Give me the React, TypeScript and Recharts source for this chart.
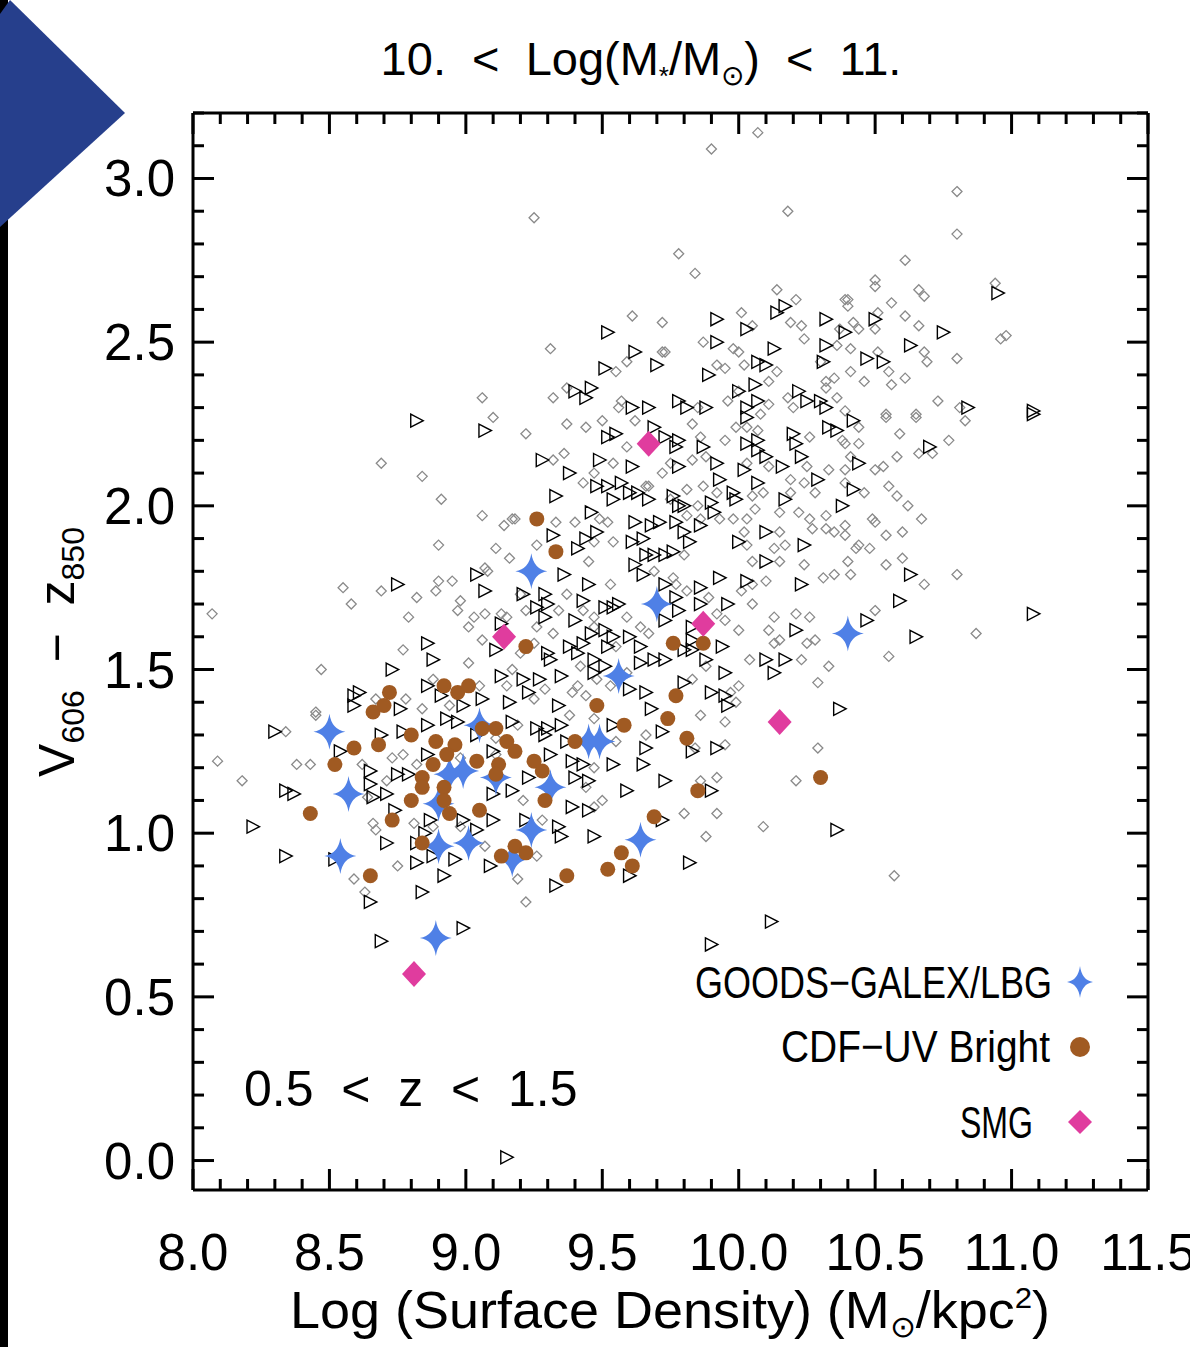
import React from 'react';
import { ScatterChart, Scatter, XAxis, YAxis } from 'recharts';

// axis ticks (minor every 0.1, labelled every 0.5)
const X_TICKS = [8.0, 8.1, 8.2, 8.3, 8.4, 8.5, 8.6, 8.7, 8.8, 8.9, 9.0, 9.1, 9.2, 9.3, 9.4, 9.5, 9.6, 9.7, 9.8, 9.9,
  10.0, 10.1, 10.2, 10.3, 10.4, 10.5, 10.6, 10.7, 10.8, 10.9, 11.0, 11.1, 11.2, 11.3, 11.4, 11.5];
const Y_TICKS = [0.0, 0.1, 0.2, 0.3, 0.4, 0.5, 0.6, 0.7, 0.8, 0.9, 1.0, 1.1, 1.2, 1.3, 1.4, 1.5, 1.6, 1.7, 1.8, 1.9,
  2.0, 2.1, 2.2, 2.3, 2.4, 2.5, 2.6, 2.7, 2.8, 2.9, 3.0, 3.1, 3.2];

// GOODS-GALEX/LBG (blue stars)
const LBG = [
  [9.24, 1.80], [9.70, 1.70], [10.40, 1.61], [9.56, 1.48], [8.50, 1.31], [9.05, 1.33], [9.45, 1.28], [9.49, 1.28],
  [8.57, 1.12], [8.94, 1.18], [8.99, 1.19], [9.11, 1.17], [9.31, 1.14], [9.24, 1.01], [8.90, 0.96], [9.01, 0.97],
  [9.17, 0.92], [9.64, 0.98], [8.54, 0.93], [8.89, 0.68], [8.90, 1.09],
];

// CDF-UV Bright (brown circles)
const UVB = [
  [8.66, 1.37], [8.70, 1.39], [8.72, 1.43], [8.92, 1.45], [8.97, 1.43], [9.01, 1.45], [8.80, 1.30], [8.89, 1.28],
  [8.96, 1.27], [9.06, 1.32], [9.11, 1.32], [9.15, 1.28], [9.18, 1.25], [8.59, 1.26], [8.68, 1.27], [8.52, 1.21],
  [8.88, 1.21], [8.93, 1.24], [9.04, 1.22], [9.12, 1.21], [9.11, 1.18], [8.84, 1.17], [8.84, 1.14], [8.80, 1.10],
  [8.92, 1.14], [8.92, 1.10], [8.94, 1.06], [9.05, 1.07], [8.43, 1.06], [8.73, 1.04], [8.84, 0.97], [9.13, 0.93],
  [9.18, 0.96], [8.65, 0.87], [9.26, 1.96], [9.33, 1.86], [9.22, 1.57], [9.76, 1.58], [9.87, 1.58], [9.77, 1.42],
  [9.48, 1.39], [9.74, 1.35], [9.58, 1.33], [9.40, 1.28], [9.81, 1.29], [9.25, 1.22], [9.28, 1.19], [9.85, 1.13],
  [9.29, 1.10], [9.69, 1.05], [9.57, 0.94], [9.61, 0.90], [9.52, 0.89], [9.37, 0.87], [9.22, 0.94], [10.30, 1.17],
];

// SMG (magenta diamonds)
const SMG = [[9.67, 2.19], [9.14, 1.60], [9.87, 1.64], [10.15, 1.34], [8.81, 0.57]];

// field galaxies (open triangles)
const TRI = [
  [9.52, 2.53], [9.62, 2.47], [9.51, 2.42], [9.70, 2.43], [9.40, 2.35], [9.46, 2.36], [9.44, 2.33], [9.61, 2.30],
  [9.67, 2.30], [9.78, 2.32], [9.81, 2.30], [9.88, 2.30], [9.92, 2.57], [9.92, 2.50], [9.89, 2.40], [10.03, 2.54],
  [10.14, 2.59], [10.17, 2.61], [10.13, 2.48], [10.07, 2.44], [10.10, 2.43], [10.00, 2.35], [10.06, 2.37], [10.07, 2.32],
  [10.03, 2.30], [10.22, 2.35], [10.25, 2.32], [10.31, 2.44], [10.32, 2.57], [10.32, 2.49], [10.30, 2.32], [10.32, 2.30],
  [10.95, 2.65], [10.50, 2.57], [10.39, 2.53], [10.75, 2.53], [10.63, 2.49], [10.47, 2.45], [10.53, 2.44], [10.84, 2.30],
  [11.08, 2.29], [8.82, 2.26], [9.07, 2.23], [8.75, 1.76], [9.04, 1.79], [9.07, 1.74], [8.86, 1.58], [8.88, 1.53],
  [8.73, 1.50], [9.13, 1.64], [9.11, 1.56], [9.13, 1.48], [8.86, 1.45], [8.91, 1.42], [9.06, 1.41], [8.59, 1.42],
  [8.61, 1.43], [8.59, 1.39], [8.76, 1.38], [9.16, 1.40], [8.99, 1.39], [10.42, 2.26], [10.36, 2.23], [10.70, 2.18],
  [10.44, 2.13], [10.42, 2.05], [10.38, 2.00], [10.63, 1.79], [10.59, 1.71], [10.47, 1.65], [10.65, 1.60], [11.08, 1.67],
  [11.08, 2.28], [10.37, 1.38], [8.30, 1.31], [8.69, 1.30], [8.77, 1.31], [8.86, 1.33], [8.93, 1.35], [8.97, 1.34],
  [9.04, 1.30], [9.17, 1.34], [8.54, 1.25], [8.65, 1.19], [8.65, 1.15], [8.66, 1.11], [8.71, 1.12], [8.75, 1.18],
  [8.79, 1.18], [8.86, 1.24], [9.10, 1.25], [8.34, 1.13], [8.37, 1.12], [8.22, 1.02], [8.74, 1.07], [8.87, 1.04],
  [8.99, 1.04], [9.04, 1.01], [9.10, 1.04], [9.10, 1.12], [9.17, 1.13], [8.71, 0.97], [8.82, 0.97], [8.85, 1.00],
  [8.34, 0.93], [8.52, 0.92], [8.82, 0.91], [8.88, 0.93], [8.96, 0.92], [8.92, 0.87], [9.09, 0.90], [8.84, 0.82],
  [8.65, 0.79], [8.69, 0.67], [8.99, 0.71], [9.26, 1.32], [9.30, 1.32], [9.29, 1.30], [9.35, 1.33], [9.37, 1.28],
  [9.31, 1.24], [9.39, 1.22], [9.43, 1.21], [9.23, 1.17], [9.40, 1.17], [9.45, 1.16], [9.39, 1.08], [9.45, 1.07],
  [9.34, 1.02], [9.35, 0.99], [9.47, 0.99], [9.22, 1.04], [9.54, 1.33], [9.54, 1.21], [9.65, 1.21], [9.66, 1.26],
  [9.72, 1.31], [9.83, 1.25], [9.92, 1.26], [9.73, 1.16], [9.59, 1.13], [9.90, 1.13], [9.72, 1.04], [9.82, 0.91],
  [9.60, 0.87], [9.33, 0.84], [9.90, 0.66], [10.12, 0.73], [10.36, 1.01], [9.15, 0.01],
  [9.52, 2.21], [9.55, 2.22], [9.69, 2.24], [9.73, 2.21], [9.78, 2.20], [9.77, 2.18], [9.87, 2.18], [9.92, 2.13],
  [9.93, 2.08], [10.03, 2.19], [10.07, 2.20], [10.07, 2.17], [10.10, 2.15], [10.20, 2.22], [10.21, 2.19], [10.23, 2.15],
  [10.16, 2.12], [10.02, 2.11], [10.07, 2.07], [10.29, 2.08], [10.33, 2.24], [10.03, 2.27], [9.28, 2.14], [9.49, 2.14],
  [9.38, 2.10], [9.48, 2.06], [9.52, 2.06], [9.57, 2.07], [9.61, 2.12], [9.60, 2.04], [9.63, 2.04], [9.67, 2.02],
  [9.54, 2.02], [9.33, 2.03], [9.78, 2.12], [9.98, 2.04], [9.99, 2.02], [9.90, 2.01], [9.91, 1.98], [9.78, 2.00],
  [9.80, 2.00], [9.76, 2.03], [10.17, 2.02], [9.46, 1.98], [9.62, 1.95], [9.68, 1.94], [9.71, 1.95], [9.77, 1.95],
  [9.80, 1.92], [9.82, 1.89], [9.86, 1.94], [9.48, 1.92], [9.44, 1.90], [9.41, 1.87], [9.32, 1.91], [9.61, 1.89],
  [9.65, 1.90], [9.66, 1.85], [9.69, 1.85], [9.73, 1.85], [9.62, 1.82], [9.65, 1.79], [9.76, 1.86], [10.00, 1.89],
  [10.10, 1.92], [10.10, 1.83], [10.24, 1.88], [9.93, 1.78], [10.03, 1.77], [10.23, 1.76], [9.36, 1.79], [9.45, 1.76],
  [9.73, 1.76], [9.77, 1.72], [9.86, 1.75], [9.86, 1.70], [9.96, 1.70], [9.78, 1.68], [9.73, 1.65], [9.83, 1.63],
  [9.21, 1.73], [9.29, 1.73], [9.30, 1.70], [9.26, 1.69], [9.29, 1.66], [9.43, 1.71], [9.51, 1.69], [9.54, 1.69],
  [9.56, 1.70], [9.40, 1.65], [9.46, 1.61], [9.51, 1.62], [9.54, 1.60], [9.60, 1.60], [9.64, 1.57], [9.43, 1.58],
  [9.38, 1.57], [9.52, 1.57], [9.30, 1.55], [9.41, 1.55], [9.31, 1.53], [9.47, 1.53], [9.35, 1.48], [9.51, 1.51],
  [9.21, 1.47], [9.27, 1.47], [9.23, 1.43], [9.34, 1.39], [9.47, 1.49], [9.60, 1.44], [9.66, 1.43], [9.68, 1.38],
  [9.69, 1.53], [9.73, 1.53], [9.64, 1.52], [9.80, 1.56], [9.83, 1.56], [9.83, 1.59], [9.94, 1.57], [9.88, 1.53],
  [9.95, 1.49], [9.80, 1.46], [9.90, 1.43], [9.95, 1.42], [9.96, 1.39], [10.10, 1.53], [10.13, 1.49], [10.17, 1.53],
  [10.21, 1.62],
];

// field galaxies (small grey diamonds)
const DIA = [
  [9.06, 2.33], [10.07, 3.14], [9.90, 3.09], [10.18, 2.90], [9.25, 2.88], [9.78, 2.77], [9.84, 2.71], [10.14, 2.66],
  [10.21, 2.63], [10.01, 2.59], [10.05, 2.55], [10.19, 2.56], [10.23, 2.55], [10.24, 2.51], [9.61, 2.58], [9.72, 2.56],
  [9.31, 2.48], [9.87, 2.50], [9.98, 2.48], [10.00, 2.47], [9.72, 2.47], [9.73, 2.47], [9.59, 2.44], [9.55, 2.41],
  [9.92, 2.43], [9.95, 2.42], [10.02, 2.43], [10.14, 2.41], [10.11, 2.38], [9.32, 2.33], [9.37, 2.36], [9.57, 2.32],
  [9.56, 2.30], [9.85, 2.30], [10.00, 2.35], [9.96, 2.32], [10.11, 2.31], [10.18, 2.33], [10.20, 2.30], [10.30, 2.44],
  [10.32, 2.38], [10.32, 2.36],
  [10.80, 2.96], [10.80, 2.83], [10.61, 2.75], [10.50, 2.69], [10.50, 2.67], [10.66, 2.66], [10.68, 2.64], [10.94, 2.68],
  [10.39, 2.63], [10.40, 2.63], [10.40, 2.61], [10.56, 2.62], [10.51, 2.59], [10.61, 2.58], [10.66, 2.55], [10.42, 2.56],
  [10.44, 2.54], [10.50, 2.54], [10.37, 2.54], [10.36, 2.49], [10.41, 2.48], [10.51, 2.47], [10.68, 2.47], [10.69, 2.44],
  [10.80, 2.45], [10.96, 2.51], [10.98, 2.52], [10.41, 2.41], [10.46, 2.38], [10.55, 2.41], [10.56, 2.37], [10.61, 2.39],
  [10.35, 2.39], [10.36, 2.33], [10.73, 2.32], [10.81, 2.30], [10.39, 2.29], [10.54, 2.28], [10.65, 2.28],
  [9.10, 2.27], [8.69, 2.13], [8.84, 2.09], [8.91, 2.02], [9.06, 1.97], [9.14, 1.94], [9.17, 1.96], [8.90, 1.88],
  [9.11, 1.87], [9.16, 1.84], [9.07, 1.81], [9.08, 1.80], [8.90, 1.77], [8.89, 1.74], [8.95, 1.77], [8.69, 1.74],
  [8.82, 1.72], [8.98, 1.71], [8.97, 1.68], [8.55, 1.75], [8.58, 1.70], [8.07, 1.67], [8.79, 1.66], [9.01, 1.63],
  [9.03, 1.66], [9.07, 1.67], [9.13, 1.67], [9.15, 1.66], [9.06, 1.59], [8.77, 1.56], [9.01, 1.52], [8.47, 1.50],
  [8.88, 1.47], [9.17, 1.50], [9.15, 1.45], [9.05, 1.45], [8.67, 1.41], [8.78, 1.41], [8.84, 1.38], [8.94, 1.39],
  [8.45, 1.37],
  [10.54, 2.27], [10.65, 2.27], [10.83, 2.26], [10.44, 2.24], [10.59, 2.22], [10.77, 2.20], [10.38, 2.20], [10.39, 2.19],
  [10.44, 2.19], [10.66, 2.16], [10.71, 2.16], [10.58, 2.15], [10.41, 2.15], [10.50, 2.11], [10.53, 2.12], [10.39, 2.11],
  [10.39, 2.07], [10.55, 2.06], [10.46, 2.04], [10.58, 2.03], [10.62, 2.00], [10.67, 1.96], [10.49, 1.96], [10.50, 1.95],
  [10.39, 1.94], [10.35, 1.92], [10.39, 1.91], [10.54, 1.91], [10.60, 1.92], [10.43, 1.87], [10.44, 1.88], [10.48, 1.87],
  [10.40, 1.83], [10.54, 1.82], [10.60, 1.84], [10.35, 1.79], [10.41, 1.79], [10.68, 1.76], [10.80, 1.79], [10.50, 1.68],
  [10.87, 1.61], [10.55, 1.54],
  [8.09, 1.22], [8.18, 1.16], [8.34, 1.31], [8.38, 1.21], [8.43, 1.21], [8.45, 1.36], [8.62, 1.21], [8.73, 1.23],
  [8.77, 1.24], [8.71, 1.16], [8.64, 1.11], [8.82, 1.21], [8.66, 1.03], [8.67, 1.01], [8.81, 1.03], [8.88, 1.02],
  [8.98, 1.02], [8.75, 0.90], [8.59, 0.86], [8.63, 0.82], [9.07, 0.96], [8.98, 1.23], [9.11, 1.24], [9.11, 1.29],
  [9.19, 1.33], [9.38, 1.36], [9.47, 1.35], [9.55, 1.28], [9.66, 1.30], [9.84, 1.26], [9.86, 1.36], [9.95, 1.34],
  [9.95, 1.27], [10.29, 1.26], [9.47, 1.20], [9.44, 1.14], [9.21, 1.10], [9.50, 1.10], [9.47, 1.08], [9.28, 1.04],
  [9.86, 1.16], [9.92, 1.17], [9.80, 1.06], [9.92, 1.06], [9.88, 0.99], [10.09, 1.02], [10.21, 1.16], [9.26, 0.93],
  [9.19, 0.86], [9.22, 0.79], [10.57, 0.87],
  [9.22, 2.22], [9.37, 2.25], [9.44, 2.24], [9.50, 2.26], [9.62, 2.26], [9.83, 2.25], [10.08, 2.28], [9.59, 2.18],
  [9.36, 2.16], [9.32, 2.14], [9.47, 2.10], [9.43, 2.07], [9.54, 2.13], [9.75, 2.13], [9.72, 2.10], [9.83, 2.14],
  [9.86, 2.21], [9.88, 2.15], [9.95, 2.20], [9.99, 2.24], [10.03, 2.24], [10.07, 2.23], [10.03, 2.13], [10.11, 2.12],
  [10.26, 2.21], [10.25, 2.12], [10.33, 2.11], [10.19, 2.08], [10.24, 2.07], [10.28, 2.04], [10.19, 2.04], [10.09, 2.04],
  [10.05, 2.03], [9.92, 2.04], [9.87, 2.06], [9.81, 2.05], [9.67, 2.06], [9.66, 2.06], [9.75, 2.02], [9.85, 2.00],
  [9.93, 1.96], [9.98, 1.96], [10.03, 1.96], [10.06, 1.99], [10.15, 1.98], [10.22, 1.98], [10.26, 1.96], [10.32, 1.97],
  [10.32, 1.93], [10.27, 1.93], [10.15, 1.92], [10.02, 1.92], [9.86, 1.96], [9.81, 1.97], [9.49, 1.96], [9.52, 1.95],
  [9.40, 1.95], [9.33, 1.95], [9.18, 1.96], [9.26, 1.88], [9.47, 1.89], [9.54, 1.89], [9.80, 1.85], [10.03, 1.88],
  [10.13, 1.87], [10.17, 1.88], [10.05, 1.83], [10.15, 1.83], [10.24, 1.82], [10.31, 1.78], [10.10, 1.77], [10.05, 1.76],
  [10.01, 1.74], [10.05, 1.70], [9.81, 1.74], [9.76, 1.78], [9.77, 1.76], [9.69, 1.80], [9.53, 1.76], [9.45, 1.83],
  [9.37, 1.73], [9.34, 1.68], [9.20, 1.73], [9.22, 1.68], [9.26, 1.63], [9.43, 1.68], [9.47, 1.66], [9.47, 1.63],
  [9.59, 1.66], [9.89, 1.72], [9.92, 1.67], [9.95, 1.65], [10.00, 1.62], [10.11, 1.62], [10.13, 1.66], [10.21, 1.67],
  [10.26, 1.66], [10.28, 1.59], [10.25, 1.58], [10.13, 1.58], [10.15, 1.59], [10.04, 1.53], [10.23, 1.53], [10.33, 1.51],
  [10.29, 1.46], [10.00, 1.45], [9.97, 1.43], [9.99, 1.40], [9.88, 1.51], [9.83, 1.47], [9.64, 1.63], [9.67, 1.61],
  [9.55, 1.57], [9.42, 1.51], [9.41, 1.45], [9.39, 1.43], [9.53, 1.45], [9.44, 1.42], [9.59, 1.49], [9.20, 1.55],
  [9.25, 1.58], [9.32, 1.61], [9.48, 1.47], [9.29, 1.44], [9.25, 1.41],
];

const toPts = (arr: number[][]) => arr.map(([x, y]) => ({ x, y }));

const FONT = '"Liberation Sans", Arial, sans-serif';
const BLUE = '#4F80E6';
const BROWN = '#A05A22';
const PINK = '#E03C9E';
const GREY = '#8a8a8a';

const isMajor = (v: number) => Math.abs(Math.round(v * 10)) % 5 === 0;

function BottomTick({ x, y, payload }: any) {
  const v = payload.value;
  const major = isMajor(v);
  return (
    <g>
      <line x1={x} x2={x} y1={y} y2={y - (major ? 21 : 11)} stroke="#000" strokeWidth={3} />
      {major && (
        <text x={x} y={y + 80} textAnchor="middle" fontSize={51} fontFamily={FONT} fill="#000">
          {v.toFixed(1)}
        </text>
      )}
    </g>
  );
}

function TopTick({ x, y, payload }: any) {
  const major = isMajor(payload.value);
  return <line x1={x} x2={x} y1={y} y2={y + (major ? 21 : 11)} stroke="#000" strokeWidth={3} />;
}

function LeftTick({ x, y, payload }: any) {
  const v = payload.value;
  const major = isMajor(v);
  return (
    <g>
      <line x1={x} x2={x + (major ? 21 : 11)} y1={y} y2={y} stroke="#000" strokeWidth={3} />
      {major && (
        <text x={x - 18} y={y + 18} textAnchor="end" fontSize={51} fontFamily={FONT} fill="#000">
          {v.toFixed(1)}
        </text>
      )}
    </g>
  );
}

function RightTick({ x, y, payload }: any) {
  const major = isMajor(payload.value);
  return <line x1={x} x2={x - (major ? 21 : 11)} y1={y} y2={y} stroke="#000" strokeWidth={3} />;
}

const starPath = (cx: number, cy: number, w: number, h: number) => {
  const c = w * 0.14;
  return `M${cx},${cy - h} Q${cx + c},${cy - c} ${cx + w},${cy} Q${cx + c},${cy + c} ${cx},${cy + h} ` +
    `Q${cx - c},${cy + c} ${cx - w},${cy} Q${cx - c},${cy - c} ${cx},${cy - h} Z`;
};

const Tri = (p: any) => (
  <polygon
    points={`${p.cx - 6},${p.cy - 6.5} ${p.cx + 6.5},${p.cy} ${p.cx - 6},${p.cy + 6.5}`}
    fill="none" stroke="#000" strokeWidth={1.4} />
);
const Dia = (p: any) => (
  <polygon
    points={`${p.cx},${p.cy - 5} ${p.cx + 5},${p.cy} ${p.cx},${p.cy + 5} ${p.cx - 5},${p.cy}`}
    fill="none" stroke={GREY} strokeWidth={1.3} />
);
const Star = (p: any) => <path d={starPath(p.cx, p.cy, 16, 18)} fill={BLUE} />;
const Dot = (p: any) => <circle cx={p.cx} cy={p.cy} r={7.5} fill={BROWN} />;
const Smg = (p: any) => (
  <polygon
    points={`${p.cx},${p.cy - 13} ${p.cx + 12},${p.cy} ${p.cx},${p.cy + 13} ${p.cx - 12},${p.cy}`}
    fill={PINK} />
);

function Overlay() {
  return (
    <svg width={1190} height={1347} style={{ position: 'absolute', left: 0, top: 0, pointerEvents: 'none' }}>
      {/* slide decoration */}
      <rect x={0} y={0} width={8} height={1347} fill="#000" />
      <polygon points="10,0 125,113 0,227 0,14" fill="#263F8C" />

      {/* title */}
      <text x={641} y={75} textAnchor="middle" fontSize={47} fontFamily={FONT} fill="#000" style={{ whiteSpace: 'pre' }}>
        {'10.  <  Log(M'}
        <tspan fontSize={26} dy={10}>*</tspan>
        <tspan dy={-10}>/M</tspan>
        <tspan fontSize={28} dy={10}>⊙</tspan>
        <tspan dy={-10}>{')  <  11.'}</tspan>
      </text>

      {/* y label */}
      <text transform="translate(74,652) rotate(-90)" textAnchor="middle" fontSize={50} fontFamily={FONT} fill="#000"
        style={{ whiteSpace: 'pre' }}>
        V<tspan fontSize={32} dy={10}>606</tspan>
        <tspan dy={-10}>{'  −  z'}</tspan>
        <tspan fontSize={32} dy={10}>850</tspan>
      </text>

      {/* x label */}
      <text x={290} y={1328} textLength={760} lengthAdjust="spacingAndGlyphs" fontSize={52} fontFamily={FONT}
        fill="#000" style={{ whiteSpace: 'pre' }}>
        {'Log (Surface Density) (M'}
        <tspan fontSize={30} dy={9}>⊙</tspan>
        <tspan dy={-9}>/kpc</tspan>
        <tspan fontSize={30} dy={-20}>2</tspan>
        <tspan dy={20}>)</tspan>
      </text>

      {/* redshift note */}
      <text x={244} y={1106} fontSize={50} fontFamily={FONT} fill="#000" style={{ whiteSpace: 'pre' }}>
        {'0.5  <  z  <  1.5'}
      </text>

      {/* legend */}
      <text x={695} y={998} textLength={357} lengthAdjust="spacingAndGlyphs" fontSize={45} fontFamily={FONT}
        fill="#000">GOODS−GALEX/LBG</text>
      <path d={starPath(1080, 982, 13, 16)} fill={BLUE} />
      <text x={781} y={1062} textLength={269} lengthAdjust="spacingAndGlyphs" fontSize={45} fontFamily={FONT}
        fill="#000">CDF−UV Bright</text>
      <circle cx={1080} cy={1047} r={10} fill={BROWN} />
      <text x={960} y={1138} textLength={73} lengthAdjust="spacingAndGlyphs" fontSize={45} fontFamily={FONT}
        fill="#000">SMG</text>
      <polygon points="1080,1110 1092,1122 1080,1134 1068,1122" fill={PINK} />
    </svg>
  );
}

export default function App() {
  return (
    <div style={{ position: 'absolute', left: 0, top: 0, width: 1190, height: 1347, background: '#fff' }}>
      <ScatterChart width={1190} height={1347} margin={{ top: 103, right: 32, bottom: 97, left: 93 }}>
        <XAxis type="number" dataKey="x" domain={[8, 11.5]} ticks={X_TICKS} interval={0} allowDataOverflow
          height={60} tickSize={0} tickMargin={0} tickLine={false} tick={<BottomTick />}
          axisLine={{ stroke: '#000', strokeWidth: 3 }} />
        <XAxis xAxisId="top" orientation="top" type="number" dataKey="x" domain={[8, 11.5]} ticks={X_TICKS}
          interval={0} allowDataOverflow height={10} tickSize={0} tickMargin={0} tickLine={false} tick={<TopTick />}
          axisLine={{ stroke: '#000', strokeWidth: 3 }} />
        <YAxis type="number" dataKey="y" domain={[-0.09, 3.2]} ticks={Y_TICKS} interval={0} allowDataOverflow
          width={100} tickSize={0} tickMargin={0} tickLine={false} tick={<LeftTick />}
          axisLine={{ stroke: '#000', strokeWidth: 3 }} />
        <YAxis yAxisId="right" orientation="right" type="number" dataKey="y" domain={[-0.09, 3.2]} ticks={Y_TICKS}
          interval={0} allowDataOverflow width={10} tickSize={0} tickMargin={0} tickLine={false} tick={<RightTick />}
          axisLine={{ stroke: '#000', strokeWidth: 3 }} />
        <Scatter data={toPts(DIA)} shape={Dia} isAnimationActive={false} />
        <Scatter data={toPts(TRI)} shape={Tri} isAnimationActive={false} />
        <Scatter data={toPts(LBG)} shape={Star} isAnimationActive={false} />
        <Scatter data={toPts(UVB)} shape={Dot} isAnimationActive={false} />
        <Scatter data={toPts(SMG)} shape={Smg} isAnimationActive={false} />
      </ScatterChart>
      <Overlay />
    </div>
  );
}
